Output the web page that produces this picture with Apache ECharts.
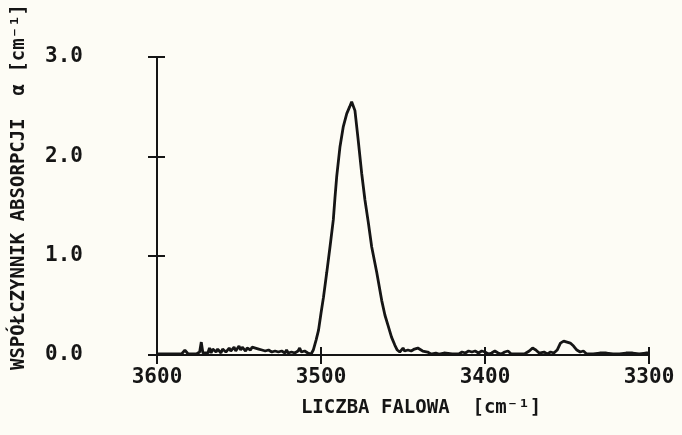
<!DOCTYPE html>
<html><head><meta charset="utf-8">
<script src="https://cdn.jsdelivr.net/npm/echarts@6/dist/echarts.min.js"></script>
<style>html,body{margin:0;padding:0;background:#fdfcf5;}#c{width:682px;height:435px;}</style>
</head><body><div id="c"></div>
<script>
const wavenumber = [3600,3590,3585,3583,3582,3581,3576,3574,3573,3572,3569,3568,3567,3566,3565,3564,3563,3562,3561,3560,3559,3558,3557,3556,3555,3554,3553,3552,3551,3550,3549,3548,3547,3546,3545,3544,3543,3542,3541,3540,3539,3538,3537,3536,3535,3534,3532,3530,3528,3526,3524,3522,3521,3520,3518,3516,3514,3513,3512,3510,3508,3506,3505,3504.7,3503,3501.5,3500,3498.5,3496.5,3494.5,3492.5,3491.5,3490.4,3488.4,3486.4,3484.3,3482.5,3481.3,3480.5,3479.3,3477.3,3475.2,3473.2,3471.2,3469.1,3466,3463,3461,3459,3457,3455,3453.5,3452,3451,3450,3449,3448,3447,3446,3445,3443,3441,3440,3438,3437,3435,3433,3430,3428,3425,3420,3416,3414,3412,3410,3408,3406,3404,3402,3400,3398,3396,3394,3392,3390,3388,3386,3384,3380,3376,3373,3371,3369,3367,3364,3362,3360,3358,3356,3354,3352,3350,3348,3346,3344,3342,3340,3338,3334,3330,3326,3322,3318,3314,3310,3306,3302,3300];
const alpha = [0.01,0.01,0.01,0.05,0.06,0.01,0.01,0.03,0.13,0.02,0.02,0.07,0.02,0.06,0.07,0.03,0.06,0.05,0.02,0.06,0.07,0.03,0.05,0.07,0.04,0.06,0.08,0.04,0.06,0.09,0.05,0.08,0.06,0.04,0.07,0.09,0.05,0.08,0.10,0.07,0.09,0.06,0.08,0.05,0.06,0.04,0.05,0.03,0.04,0.03,0.04,0.02,0.05,0.02,0.03,0.02,0.04,0.07,0.03,0.04,0.02,0.01,0.03,0.05,0.15,0.25,0.42,0.58,0.83,1.09,1.36,1.58,1.80,2.10,2.30,2.43,2.50,2.55,2.55,2.46,2.16,1.83,1.56,1.34,1.09,0.83,0.55,0.40,0.29,0.18,0.10,0.05,0.03,0.05,0.07,0.04,0.06,0.05,0.07,0.04,0.06,0.07,0.05,0.04,0.02,0.03,0.01,0.02,0.01,0.02,0.01,0.01,0.03,0.02,0.04,0.03,0.04,0.02,0.04,0.03,0.01,0.02,0.04,0.02,0.01,0.03,0.04,0.01,0.01,0.01,0.04,0.07,0.05,0.02,0.03,0.01,0.03,0.02,0.05,0.12,0.14,0.13,0.12,0.09,0.05,0.03,0.04,0.01,0.01,0.02,0.02,0.01,0.01,0.02,0.02,0.01,0.02,0.02];
const xTicks = [3600,3500,3400,3300];
const yTicks = [0,1,2,3];
const xTitle = 'LICZBA FALOWA  [cm⁻¹]';
const yTitle = 'WSPÓŁCZYNNIK ABSORPCJI  α [cm⁻¹]';

const ink = '#151515';
const font = 'DejaVu Sans Mono';
const chart = echarts.init(document.getElementById('c'));
const baseX = {type:'value', min:3300, max:3600, interval:100, inverse:true, position:'bottom', splitLine:{show:false}};
const baseY = {type:'value', min:0, max:3, interval:1, position:'left', splitLine:{show:false}};
chart.setOption({
  backgroundColor:'#fdfcf5',
  animation:false,
  grid:{left:157, right:33, top:57, bottom:80},
  xAxis:[
    Object.assign({}, baseX, {
      axisLine:{lineStyle:{color:ink, width:2}},
      axisTick:{inside:false, length:9, lineStyle:{color:ink, width:2}},
      axisLabel:{color:ink, fontFamily:font, fontWeight:'bold', fontSize:21, margin:12,
        formatter:v=>xTicks.includes(v)?String(v):''},
      name:xTitle, nameLocation:'middle', nameGap:44,
      nameTextStyle:{color:ink, fontFamily:font, fontWeight:'bold', fontSize:19, padding:[0,0,0,36]}
    }),
    Object.assign({}, baseX, {
      axisLine:{show:false},
      axisTick:{inside:true, length:8, lineStyle:{color:ink, width:2}},
      axisLabel:{show:false}
    })
  ],
  yAxis:[
    Object.assign({}, baseY, {
      axisLine:{show:true, lineStyle:{color:ink, width:2}},
      axisTick:{show:true, inside:false, length:9, lineStyle:{color:ink, width:2}},
      axisLabel:{color:ink, fontFamily:font, fontWeight:'bold', fontSize:21, margin:74,
        padding:[0,0,10,0],
        formatter:v=>yTicks.includes(v)?v.toFixed(1):''},
      name:yTitle, nameLocation:'middle', nameGap:128,
      nameTextStyle:{color:ink, fontFamily:font, fontWeight:'bold', fontSize:19, padding:[0,0,0,38]}
    }),
    Object.assign({}, baseY, {
      axisLine:{show:false},
      axisTick:{show:true, inside:true, length:8, lineStyle:{color:ink, width:2}},
      axisLabel:{show:false}
    })
  ],
  series:[{
    type:'line', xAxisIndex:0, yAxisIndex:0, showSymbol:false, smooth:false,
    lineStyle:{color:ink, width:2.8},
    data: wavenumber.map((w,i)=>[w, alpha[i]])
  }]
});
</script></body></html>
